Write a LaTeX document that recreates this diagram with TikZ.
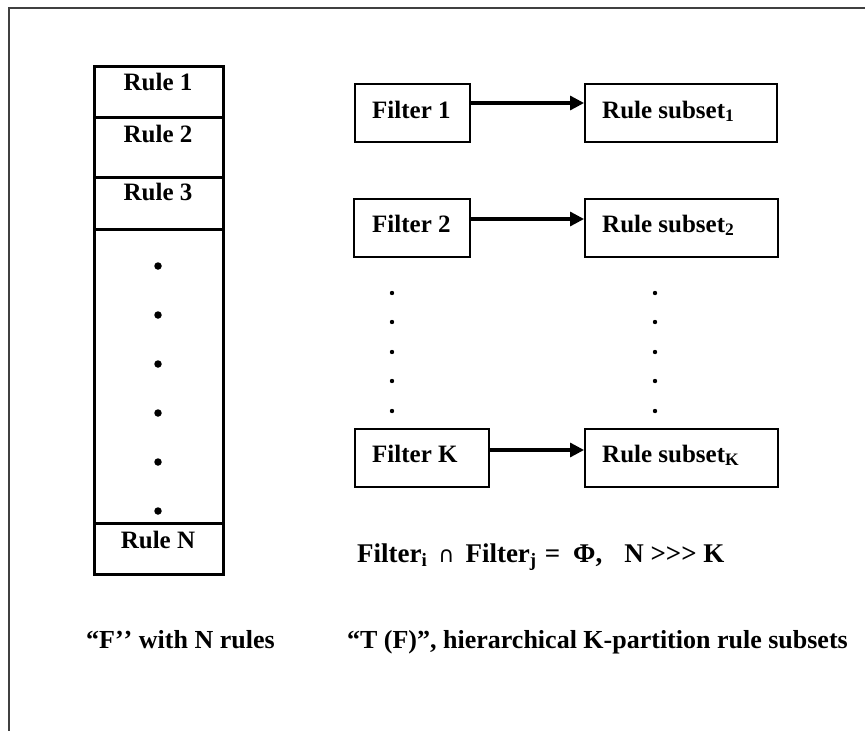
\documentclass[tikz,border=0pt]{standalone}
\usepackage{fontspec}
\setmainfont{Liberation Serif}
\newfontfamily\symfont{DejaVu Sans}
\usetikzlibrary{arrows.meta}

\tikzset{
  stack/.style={draw, line width=3pt},
  fbox/.style={draw, line width=1.9pt, inner sep=0pt, minimum height=58pt},
  lbl/.style={font=\bfseries\fontsize{25}{30}\selectfont, inner sep=0pt, anchor=base},
  lblw/.style={lbl, anchor=base west},
  caption/.style={lbl, font=\bfseries\fontsize{26}{30}\selectfont},
  link/.style={line width=3.1pt, -{Triangle[length=14pt,width=14pt]}},
  bigdot/.style={circle, fill, inner sep=0pt, minimum size=7.5pt},
  smalldot/.style={circle, fill, inner sep=0pt, minimum size=4.4pt},
  frame/.style={draw=black!75, line width=1.5pt},
}

\begin{document}
\begin{tikzpicture}[x=1pt, y=-1pt]
\useasboundingbox (0,0) rectangle (865,731);

% page frame (top and left edges)
\draw[frame] (9,731) -- (9,8) -- (865,8);

% the rule list F
\draw[stack] (94,66) rectangle (223,574);
\foreach \yy in {117,177,229,523} \draw[stack] (94,\yy) -- (223,\yy);
\node[lbl] (r1) at (158,90)  {Rule 1};
\node[lbl] (r2) at (158,142) {Rule 2};
\node[lbl] (r3) at (158,200) {Rule 3};
\node[lbl] (rn) at (158,548) {Rule N};
\foreach \yy [count=\k] in {266,315,364,413,462,511}
  \node[bigdot] (bd\k) at (158,\yy) {};

% filters and their rule subsets
\node[fbox, minimum width=115pt] (f1) at (412.5,113) {};
\node[fbox, minimum width=192pt] (s1) at (681,113) {};
\node[fbox, minimum width=116pt] (f2) at (412,228) {};
\node[fbox, minimum width=193pt] (s2) at (681.5,228) {};
\node[fbox, minimum width=134pt] (fk) at (422,458) {};
\node[fbox, minimum width=193pt] (sk) at (681.5,458) {};

\node[lblw] (tf1) at (372,118) {Filter 1};
\node[lblw] (ts1) at (602,118) {Rule subset\textsubscript{1}};
\node[lblw] (tf2) at (372,232) {Filter 2};
\node[lblw] (ts2) at (602,232) {Rule subset\textsubscript{2}};
\node[lblw] (tfk) at (372,462) {Filter K};
\node[lblw] (tsk) at (602,462) {Rule subset\textsubscript{K}};

\draw[link] ([yshift=10pt]f1.east) -- ([yshift=10pt]s1.west);
\draw[link] ([yshift=9pt]f2.east) -- ([yshift=9pt]s2.west);
\draw[link] ([yshift=8pt]fk.east) -- ([yshift=8pt]sk.west);

\foreach \yy [count=\k] in {293,322,352,381,411} {
  \node[smalldot] (ld\k) at (392,\yy) {};
  \node[smalldot] (rd\k) at (655,\yy) {};
}

% disjointness condition
\node[lblw, font=\bfseries\fontsize{27}{30}\selectfont] (cond) at (357,562)
  {Filter\textsubscript{i}\hspace{11pt}{\mdseries\symfont\fontsize{22}{24}\selectfont ∩}\hspace{11pt}Filter\textsubscript{j}\hspace{8pt}=\hspace{13pt}Φ,\hspace{22pt}N >\kern0pt>\kern0pt> K};

% captions
\node[caption, anchor=base west] (capf) at (86,648) {“F’\kern0pt’ with N rules};
\node[caption, anchor=base east] (capt) at (848,648) {“T (F)”, hierarchical K-partition rule subsets};
\end{tikzpicture}
\end{document}
